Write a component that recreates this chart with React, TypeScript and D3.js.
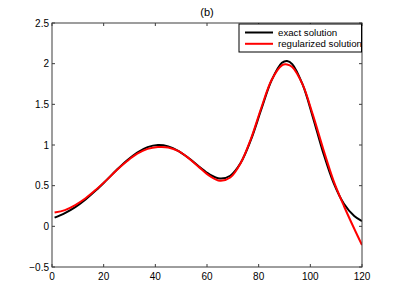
import React from "react";
import * as d3 from "d3";

const xs = [1, 5, 9, 13, 17, 21, 25, 29, 33, 37, 41, 45, 49, 53, 57, 61, 65, 69, 73, 77, 81, 85, 89, 91, 93, 97, 101, 105, 109, 113, 117, 120];
const exactValues = [0.107, 0.163, 0.237, 0.331, 0.442, 0.565, 0.692, 0.81, 0.908, 0.974, 1.0, 0.983, 0.925, 0.837, 0.733, 0.639, 0.589, 0.622, 0.778, 1.063, 1.436, 1.794, 2.01, 2.034, 1.995, 1.744, 1.34, 0.903, 0.534, 0.277, 0.126, 0.064];
const regValues = [0.17, 0.2, 0.262, 0.345, 0.45, 0.565, 0.69, 0.8, 0.893, 0.952, 0.975, 0.97, 0.925, 0.835, 0.725, 0.62, 0.56, 0.6, 0.775, 1.075, 1.455, 1.8, 1.98, 1.99, 1.96, 1.745, 1.37, 0.95, 0.56, 0.25, -0.03, -0.23];
const xTicks = [0, 20, 40, 60, 80, 100, 120];
const yTicks = [-0.5, 0, 0.5, 1, 1.5, 2, 2.5];
const legendLabels = ["exact solution", "regularized solution"];
const title = "(b)";

const W = 401, H = 301;
const L = 52, R = 362, T = 23, B = 267;

export default function App() {
  const x = d3.scaleLinear().domain([0, 120]).range([L, R]);
  const y = d3.scaleLinear().domain([-0.5, 2.5]).range([B, T]);
  const line = d3.line<number>().x((_, i) => x(xs[i])).y((d) => y(d)).curve(d3.curveCatmullRom.alpha(0.5));
  const fmt = (v: number) => (v < 0 ? "\u2212" + String(-v) : String(v));
  const font = "Liberation Sans, Arial, sans-serif";
  const axisColor = "#3c3c3c";
  return (
    <svg width={W} height={H} style={{ position: "absolute", left: 0, top: 0, background: "#fff" }}>
      <rect x={0} y={0} width={W} height={H} fill="#fff" />
      <text x={207} y={16} textAnchor="middle" fontFamily={font} fontSize={11} fill="#000">{title}</text>
      <g clipPath="url(#clip)">
        <path d={line(exactValues) || ""} fill="none" stroke="#000" strokeWidth={2} />
        <path d={line(regValues) || ""} fill="none" stroke="#ff0000" strokeWidth={2} />
      </g>
      <defs>
        <clipPath id="clip"><rect x={L} y={T} width={R - L} height={B - T} /></clipPath>
      </defs>
      <rect x={L} y={T} width={R - L} height={B - T} fill="none" stroke={axisColor} strokeWidth={1} />
      {xTicks.map((t) => (
        <g key={"x" + t}>
          <line x1={x(t)} x2={x(t)} y1={B} y2={B - 3} stroke={axisColor} />
          <line x1={x(t)} x2={x(t)} y1={T} y2={T + 3} stroke={axisColor} />
          <text x={x(t)} y={280} textAnchor="middle" fontFamily={font} fontSize={10} fill="#000">{fmt(t)}</text>
        </g>
      ))}
      {yTicks.map((t) => (
        <g key={"y" + t}>
          <line x1={L} x2={L + 3} y1={y(t)} y2={y(t)} stroke={axisColor} />
          <line x1={R} x2={R - 3} y1={y(t)} y2={y(t)} stroke={axisColor} />
          <text x={49} y={y(t) + 3.5} textAnchor="end" fontFamily={font} fontSize={10} fill="#000">{fmt(t)}</text>
        </g>
      ))}
      <rect x={239} y={24} width={122.5} height={28} fill="#fff" stroke="#000" strokeWidth={1} />
      {legendLabels.map((lab, i) => (
        <g key={lab}>
          <line x1={245} x2={273} y1={32.5 + i * 11.3} y2={32.5 + i * 11.3} stroke={i === 0 ? "#000" : "#ff0000"} strokeWidth={2} />
          <text x={278} y={36 + i * 11.3} fontFamily={font} fontSize={9.7} fill="#000">{lab}</text>
        </g>
      ))}
    </svg>
  );
}
